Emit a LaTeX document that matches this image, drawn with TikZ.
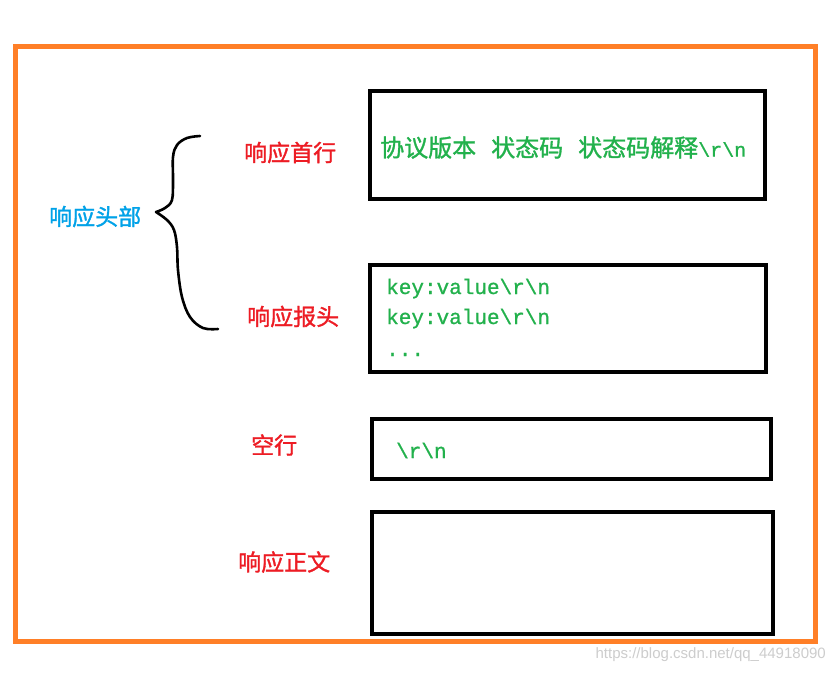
\documentclass[tikz,border=0pt]{standalone}
\usepackage{fontspec}
\newfontfamily\cjk[FakeBold=1.3]{Noto Sans CJK SC}
\newfontfamily\monof[FakeBold=0.9]{Liberation Mono}
\newfontfamily\wmf{Liberation Sans}
\definecolor{paintred}{RGB}{237,28,36}
\definecolor{paintgreen}{RGB}{34,177,76}
\definecolor{paintblue}{RGB}{0,162,232}
\definecolor{paintorange}{RGB}{255,127,39}
\definecolor{wmgray}{RGB}{205,205,205}
\begin{document}
\begin{tikzpicture}[x=1pt,y=-1pt,
  box/.style={draw=black,line width=4pt,inner sep=0pt,outer sep=0pt},
  lab/.style={inner sep=0pt,anchor=west,font=\cjk\fontsize{23}{23}\selectfont},
  code/.style={inner sep=0pt,anchor=base west,text=paintgreen,font=\monof\fontsize{21}{21}\selectfont}]
\useasboundingbox (0,0) rectangle (834,673);
\fill[white] (0,0) rectangle (834,673);
\draw[paintorange,line width=5pt] (15,46.5) rectangle (815.5,641);
% boxes
\node[box,minimum width=395.5pt,minimum height=108pt] (b1) at (567.25,145) {};
\node[box,minimum width=396pt,minimum height=107pt] (b2) at (568,318.5) {};
\node[box,minimum width=399pt,minimum height=60pt] (b3) at (571.5,449) {};
\node[box,minimum width=401pt,minimum height=122pt] (b4) at (572.5,573) {};
% box texts
\node[inner sep=0pt,anchor=west,text=paintgreen] (t1) at (380,147.5)
  {\cjk\fontsize{24}{24}\selectfont 协议版本\hspace{15pt}状态码\hspace{15pt}状态码解释{\monof\fontsize{20}{20}\selectfont\textbackslash r\textbackslash n}};
\node[code] (k1) at (386,294) {key:value\textbackslash r\textbackslash n};
\node[code] (k2) at (386,324) {key:value\textbackslash r\textbackslash n};
\node[code] (k3) at (386,356) {...};
\node[code] (t3) at (396,458) {\textbackslash r\textbackslash n};
% labels
\node[lab,text=paintblue] (head) at (49,216.5) {响应头部};
\node[lab,text=paintred] (l1) at (244,152.5) {响应首行};
\node[lab,text=paintred] (l2) at (247,316.5) {响应报头};
\node[lab,text=paintred] (l3) at (251,445) {空行};
\node[lab,text=paintred] (l4) at (238,562) {响应正文};
% brace
\draw[line width=2.6pt,line cap=round,line join=round]
  plot[smooth,tension=0.6] coordinates {(200,136) (187,138) (177,145) (173,157) (173,180) (172,200) (165,208) (156,212)}
  plot[smooth,tension=0.6] coordinates {(156,212) (167,220) (174,230) (177,247) (178,270) (182,297) (190,317) (203,328) (218,329)};
% watermark
\node[inner sep=0pt,anchor=east,text=wmgray,font=\wmf\fontsize{15}{15}\selectfont] (wm) at (826,655) {https://blog.csdn.net/qq\_44918090};
\end{tikzpicture}
\end{document}
